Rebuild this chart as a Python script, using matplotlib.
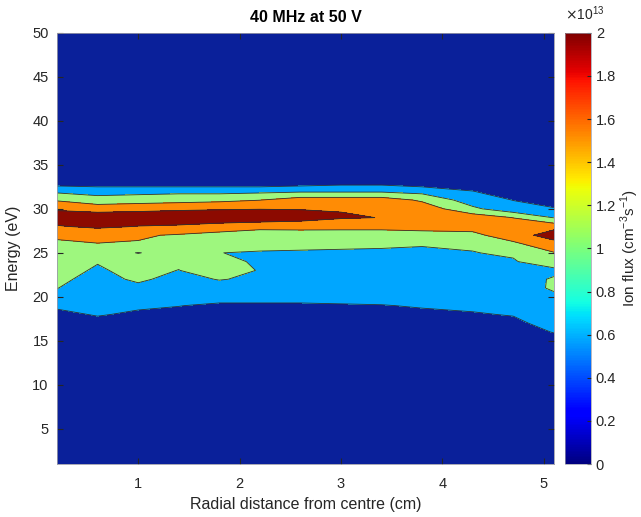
import numpy as np
import matplotlib.pyplot as plt
from matplotlib import cm
from matplotlib.colors import Normalize

plt.rcParams['font.family'] = ['Liberation Sans', 'DejaVu Sans']

radial_cm = [0.2, 0.6, 1.0, 1.4, 1.8, 2.2, 2.6, 3.0, 3.4, 3.8, 4.3, 4.7, 5.1]
energy_ev = [1, 14, 15, 16, 17, 18, 19, 20, 21, 22, 23, 24, 25, 26, 27, 28,
             29, 30, 31, 32, 33, 34, 50]

# ion flux (x1e13 cm^-3 s^-1) vs energy, one list per radial position
flux_r02 = [0.10, 0.30, 0.32, 0.36, 0.40, 0.44, 0.54, 0.79, 1.01, 1.09, 1.18, 1.27,
            1.36, 1.45, 1.55, 1.97, 2.20, 1.95, 1.45, 0.89, 0.24, 0.15, 0.05]
flux_r06 = [0.10, 0.30, 0.33, 0.37, 0.42, 0.52, 0.60, 0.69, 0.77, 0.86, 0.94, 1.026,
            1.27, 1.48, 1.68, 2.08, 2.20, 1.87, 1.13, 0.87, 0.13, 0.10, 0.05]
flux_r10 = [0.10, 0.30, 0.33, 0.37, 0.41, 0.46, 0.54, 0.74, 0.90, 1.067, 1.15, 1.25,
            0.98, 1.46, 1.56, 1.99, 2.20, 1.91, 1.23, 0.85, 0.15, 0.10, 0.05]
flux_r14 = [0.10, 0.30, 0.32, 0.35, 0.39, 0.45, 0.505, 0.62, 0.74, 0.87, 0.99, 1.09,
            1.23, 1.33, 1.45, 1.95, 2.25, 1.94, 1.31, 0.87, 0.13, 0.10, 0.05]
flux_r18 = [0.10, 0.28, 0.31, 0.34, 0.38, 0.42, 0.47, 0.57, 0.83, 1.02, 1.25, 1.10,
            1.005, 1.15, 1.30, 1.85, 2.25, 1.97, 1.38, 0.84, 0.16, 0.10, 0.05]
flux_r22 = [0.10, 0.28, 0.31, 0.34, 0.38, 0.42, 0.47, 0.57, 0.80, 0.93, 0.97, 0.95,
            0.96, 1.16, 1.30, 1.62, 2.38, 1.98, 1.49, 0.877, 0.12, 0.10, 0.05]
flux_r26 = [0.10, 0.28, 0.31, 0.34, 0.38, 0.42, 0.47, 0.57, 0.64, 0.73, 0.81, 0.89,
            0.97, 1.07, 1.37, 1.59, 2.27, 1.97, 1.75, 0.917, 0.22, 0.12, 0.05]
flux_r30 = [0.10, 0.28, 0.31, 0.34, 0.38, 0.43, 0.48, 0.58, 0.645, 0.73, 0.81, 0.89,
            0.97, 1.045, 1.36, 1.59, 2.05, 1.97, 1.75, 0.917, 0.32, 0.15, 0.05]
flux_r34 = [0.10, 0.28, 0.31, 0.34, 0.38, 0.43, 0.49, 0.59, 0.65, 0.72, 0.80, 0.88,
            0.96, 1.04, 1.36, 1.59, 1.99, 1.90, 1.75, 0.917, 0.32, 0.15, 0.05]
flux_r38 = [0.10, 0.29, 0.32, 0.36, 0.40, 0.45, 0.52, 0.59, 0.66, 0.74, 0.81, 0.88,
            0.95, 1.02, 1.36, 1.64, 1.88, 1.80, 1.425, 0.82, 0.18, 0.10, 0.05]
flux_r43 = [0.10, 0.30, 0.33, 0.37, 0.42, 0.48, 0.547, 0.62, 0.70, 0.77, 0.84, 0.91,
            0.99, 1.04, 1.41, 1.635, 1.80, 1.10, 0.74, 0.51, 0.15, 0.10, 0.05]
flux_r47 = [0.10, 0.30, 0.34, 0.39, 0.44, 0.515, 0.59, 0.67, 0.74, 0.82, 0.89, 0.97,
            1.045, 1.42, 1.70, 1.75, 1.49, 0.67, 0.49, 0.20, 0.12, 0.10, 0.05]
flux_r51 = [0.10, 0.35, 0.41, 0.51, 0.60, 0.70, 0.80, 0.90, 1.067, 1.04, 0.907, 1.217,
            1.48, 1.75, 2.30, 1.80, 0.98, 0.55, 0.20, 0.12, 0.10, 0.10, 0.05]

flux = np.array([flux_r02, flux_r06, flux_r10, flux_r14, flux_r18, flux_r22, flux_r26,
                 flux_r30, flux_r34, flux_r38, flux_r43, flux_r47, flux_r51]).T * 1e13

levels = np.array([0, 0.5, 1.0, 1.5, 2.0, 3.0]) * 1e13
fill_colors = ['#0a209a', '#00a6ff', '#9ef77e', '#ff8c05', '#8c0a00']

fig = plt.figure(figsize=(6.41, 5.17), dpi=100)
ax = fig.add_axes([0.089, 0.1025, 0.775, 0.834])
ax.contourf(radial_cm, energy_ev, flux, levels=levels, colors=fill_colors)
ax.contour(radial_cm, energy_ev, flux, levels=levels[1:-1], colors='#303030', linewidths=0.6)
ax.set_xlim(0.2, 5.1)
ax.set_ylim(1, 50)
ax.set_xticks([1, 2, 3, 4, 5])
ax.set_yticks(range(5, 51, 5))
ax.tick_params(direction='in', length=4, labelsize=10.5, colors='#262626', top=True, right=True)
ax.tick_params(axis='x', pad=9)
ax.tick_params(axis='y', pad=6)
for s in ax.spines.values():
    s.set_color('#9a9aa8')
    s.set_linewidth(0.6)
ax.set_xlabel('Radial distance from centre (cm)', fontsize=11.5, color='#262626', labelpad=5)
ax.set_ylabel('Energy (eV)', fontsize=11.5, color='#262626', labelpad=8)
ax.set_title('40 MHz at 50 V', fontsize=11.5, fontweight='bold', pad=8)

cax = fig.add_axes([0.881, 0.1025, 0.041, 0.834])
sm = cm.ScalarMappable(norm=Normalize(0, 2e13), cmap='jet')
cb = fig.colorbar(sm, cax=cax)
cb.set_ticks(np.arange(0, 2.01, 0.2) * 1e13)
cb.set_ticklabels(['%g' % round(v, 1) for v in np.arange(0, 2.01, 0.2)])
cb.ax.tick_params(direction='in', length=3, labelsize=10.5, colors='#262626')
cb.outline.set_linewidth(0.5)
cb.outline.set_edgecolor('#9a9aa8')
cb.set_label('Ion flux (cm$^{\\mathregular{-3}}$s$^{\\mathregular{-1}}$)', fontsize=11, color='#262626', labelpad=2)
fig.text(0.881, 0.962, '$\\times\\mathregular{10^{13}}$', fontsize=10, color='#262626')

fig.savefig('out.png', dpi=100)
